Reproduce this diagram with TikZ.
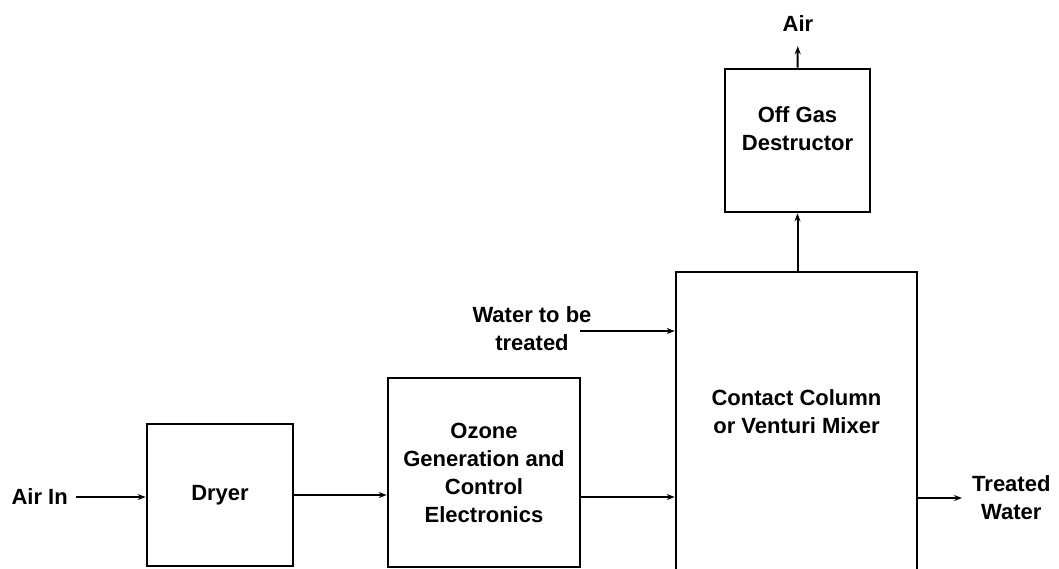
\documentclass[tikz,border=0pt]{standalone}
\usepackage{fontspec}
\setmainfont{Liberation Sans}
\usetikzlibrary{arrows.meta}
\begin{document}
\begin{tikzpicture}[x=1pt,y=-1pt,
  every node/.style={font=\fontsize{22}{28}\selectfont\bfseries, align=center},
  box/.style={draw, line width=2.6pt, inner sep=0pt},
  lbl/.style={inner sep=0pt},
  flow/.style={line width=2pt, -{Stealth[length=8pt,width=6pt]}}]
\useasboundingbox (0,0) rectangle (1059,568);
\clip (0,0) rectangle (1059,568);
\fill[white] (0,0) rectangle (1059,568);
% boxes
\node[box, minimum width=146pt, minimum height=142pt] (dryer) at (220,495) {Dryer};
\node[box, minimum width=192pt, minimum height=189pt] (ozone) at (484,472.5) {Ozone\\Generation and\\Control\\Electronics};
\node[box, minimum width=241pt, minimum height=318pt] (contact) at (796.5,431) {};
\node[lbl] (contacttxt) at (796.5,412) {Contact Column\\or Venturi Mixer};
\node[box, minimum width=145pt, minimum height=143pt] (offgas) at (797.5,140.5) {};
\node[lbl] (offgastxt) at (797.5,129) {Off Gas\\Destructor};
% labels
\node[lbl, anchor=east] (airin) at (68,497) {Air In};
\node[lbl] (water) at (532,329) {Water to be\\treated};
\node[lbl, anchor=west] (tw) at (972,498) {Treated\\Water};
\node[lbl] (air) at (798,24) {Air};
\coordinate (win) at (580,331);
% connectors
\draw[flow, shorten <=8pt] (airin.east) -- (airin.east -| dryer.west);
\draw[flow] (dryer.east) -- (dryer.east -| ozone.west);
\draw[flow] (ozone.east |- airin.east) -- (contact.west |- airin.east);
\draw[flow] (win) -- (win -| contact.west);
\draw[flow, shorten >=10pt] (contact.east |- tw.west) -- (tw.west);
\draw[flow] (contact.north -| offgas.south) -- (offgas.south);
\draw[flow, shorten >=14pt] (offgas.north) -- (air.south);
\end{tikzpicture}
\end{document}
